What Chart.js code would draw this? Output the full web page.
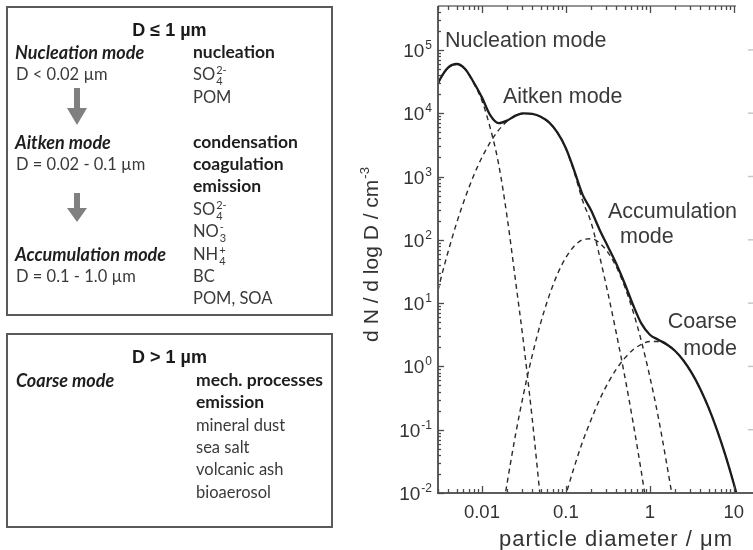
<!DOCTYPE html>
<html>
<head>
<meta charset="utf-8">
<script src="https://cdn.jsdelivr.net/npm/chart.js@4.4.1/dist/chart.umd.min.js"></script>
<style>
  html, body { margin: 0; padding: 0; background: #fff; }
  #wrap { position: relative; width: 753px; height: 550px; overflow: hidden; }
  #plot { position: absolute; left: 0; top: 0; }
  .box { position: absolute; left: 6px; width: 327px; border: 2px solid #5a5a5a; box-sizing: border-box; }
  .t { position: absolute; white-space: nowrap; font-family: Lato, "Open Sans", sans-serif; font-size: 16.5px; line-height: 22px; color: #3a3a3a; }
  .b { font-weight: bold; color: #1e1e1e; font-size: 17.5px; }
  .bi { font-weight: bold; font-style: italic; color: #1e1e1e; font-size: 18px; }
  .head { font-family: "Liberation Sans", Arial, sans-serif; font-weight: bold; font-size: 18px; color: #1a1a1a; text-align: center; width: 327px; left: 6px; }
  .st { display: inline-block; vertical-align: -5px; font-size: 11px; line-height: 11px; margin-left: 1px; }
  .st span { display: block; }
</style>
</head>
<body>
<div id="wrap">
  <canvas id="plot" width="753" height="550"></canvas>

  <div class="box" style="top:6px;height:310px;"></div>
  <div class="box" style="top:333px;height:195px;"></div>

  <svg style="position:absolute;left:0;top:0;" width="330" height="550">
    <g fill="#808080">
      <rect x="74" y="88" width="6" height="21"/>
      <polygon points="67,108 87,108 77,125"/>
      <rect x="74" y="193" width="6" height="16"/>
      <polygon points="67,208 87,208 77,222"/>
    </g>
  </svg>

  <!-- fine fraction -->
  <div class="t head" style="top:19px;">D ≤ 1 µm</div>
  <div class="t bi" style="left:15px;top:41px;">Nucleation mode</div>
  <div class="t" style="left:16px;top:63px;">D &lt; 0.02 µm</div>
  <div class="t bi" style="left:15px;top:131px;">Aitken mode</div>
  <div class="t" style="left:16px;top:153px;">D = 0.02 - 0.1 µm</div>
  <div class="t bi" style="left:15px;top:243px;">Accumulation mode</div>
  <div class="t" style="left:16px;top:265px;">D = 0.1 - 1.0 µm</div>

  <div class="t b" style="left:193px;top:41px;">nucleation</div>
  <div class="t" style="left:193px;top:63px;">SO<span class="st"><span>2-</span><span>4</span></span></div>
  <div class="t" style="left:193px;top:86px;">POM</div>
  <div class="t b" style="left:193px;top:131px;">condensation</div>
  <div class="t b" style="left:193px;top:153px;">coagulation</div>
  <div class="t b" style="left:193px;top:175px;">emission</div>
  <div class="t" style="left:193px;top:198px;">SO<span class="st"><span>2-</span><span>4</span></span></div>
  <div class="t" style="left:193px;top:220px;">NO<span class="st"><span>-</span><span>3</span></span></div>
  <div class="t" style="left:193px;top:243px;">NH<span class="st"><span>+</span><span>4</span></span></div>
  <div class="t" style="left:193px;top:265px;">BC</div>
  <div class="t" style="left:193px;top:287px;">POM, SOA</div>

  <!-- coarse fraction -->
  <div class="t head" style="top:346px;">D &gt; 1 µm</div>
  <div class="t bi" style="left:16px;top:369px;">Coarse mode</div>
  <div class="t b" style="left:196px;top:369px;">mech. processes</div>
  <div class="t b" style="left:196px;top:391px;">emission</div>
  <div class="t" style="left:196px;top:414px;">mineral dust</div>
  <div class="t" style="left:196px;top:436px;">sea salt</div>
  <div class="t" style="left:196px;top:458px;">volcanic ash</div>
  <div class="t" style="left:196px;top:481px;">bioaerosol</div>
</div>

<script>
// particle diameter grid (µm)
const diameters = [0.003, 0.00316, 0.00398, 0.00501, 0.00631, 0.00794, 0.01, 0.0126, 0.0158, 0.02,
  0.0251, 0.0316, 0.0398, 0.0501, 0.0631, 0.0794, 0.1, 0.126, 0.158, 0.2,
  0.251, 0.316, 0.398, 0.501, 0.631, 0.794, 1, 1.26, 1.58, 2,
  2.51, 3.16, 3.98, 5.01, 6.31, 7.94, 10, 12.6];

// dN/dlogD (cm^-3) of each mode
const nucleationMode = [29200, 34000, 52700, 59700, 49500, 30100, 15800, 5750, 1580, 224,
  22.9, 2.13, 0.145, 0.0073, null, null, null, null, null, null,
  null, null, null, null, null, null, null, null, null, null,
  null, null, null, null, null, null, null, null];

const aitkenMode = [15.8, 21.2, 66.5, 186, 460, 1020, 2000, 3480, 5400, 7450,
  9140, 9970, 9770, 8810, 7160, 4900, 2750, 1150, 417, 186,
  56.2, 14.5, 3.37, 0.71, 0.13, 0.0209, 0.0029, null, null, null,
  null, null, null, null, null, null, null, null];

const accumulationMode = [null, null, null, null, null, null, null, null, 0.0021, 0.0145,
  0.0826, 0.388, 1.51, 4.88, 13.0, 28.8, 52.6, 79.8, 100, 104,
  89.3, 63.5, 37.5, 18.3, 7.38, 2.47, 0.684, 0.157, 0.0298, 0.0047,
  null, null, null, null, null, null, null, null];

const coarseMode = [null, null, null, null, null, null, null, null, null, null,
  null, null, null, null, null, 0.0031, 0.0094, 0.026, 0.0646, 0.145,
  0.295, 0.542, 0.90, 1.35, 1.83, 2.24, 2.48, 2.48, 2.21, 1.75,
  1.24, 0.783, 0.441, 0.221, 0.0986, 0.0393, 0.0139, 0.0044];

// sum of all modes
const totalDistribution = [29200, 34000, 52800, 59900, 50000, 31100, 17800, 9230, 6980, 7670,
  9160, 9970, 9770, 8810, 7170, 4930, 2800, 1230, 517, 290,
  146, 78.5, 41.8, 20.4, 9.34, 4.73, 3.16, 2.64, 2.24, 1.75,
  1.24, 0.783, 0.441, 0.221, 0.0986, 0.0393, 0.0139, 0.0044];

const xTickValues = [0.01, 0.1, 1, 10];
const xTickLabels = ['0.01', '0.1', '1', '10'];
const yTickExponents = [-2, -1, 0, 1, 2, 3, 4, 5];

const modeLabels = ['Nucleation mode', 'Aitken mode', 'Accumulation', 'mode', 'Coarse', 'mode'];

function toPoints(series) {
  return diameters.map((d, i) => ({ x: d, y: series[i] })).filter(p => p.y !== null);
}

const solidStyle = { borderColor: '#1c1c1c', borderWidth: 2.3, pointRadius: 0, cubicInterpolationMode: 'monotone', fill: false };
const dashStyle = { borderColor: '#2a2a2a', borderWidth: 1.4, borderDash: [5, 4], pointRadius: 0, cubicInterpolationMode: 'monotone', fill: false };

// axes frame, inward ticks, tick labels, titles and mode labels
const framePlugin = {
  id: 'frame',
  afterDraw(chart) {
    const { ctx, chartArea: a, scales: { x, y } } = chart;
    const seg = (x1, y1, x2, y2) => { ctx.beginPath(); ctx.moveTo(x1, y1); ctx.lineTo(x2, y2); ctx.stroke(); };
    ctx.save();

    // axis lines
    ctx.strokeStyle = '#5c5c5c';
    ctx.lineWidth = 2;
    seg(a.left, a.top, a.left, a.bottom + 1);
    seg(a.left, a.bottom, a.right, a.bottom);
    ctx.strokeStyle = '#707070';
    ctx.lineWidth = 1.5;
    const topEnd = x.getPixelForValue(10) + 2;
    seg(a.left, a.top, topEnd, a.top);

    // x ticks (bottom and top, pointing inward)
    ctx.lineWidth = 1.3;
    ctx.strokeStyle = '#4a4a4a';
    for (let n = -3; n <= 1; n++) {
      for (let k = 1; k <= 9; k++) {
        const v = k * Math.pow(10, n);
        if (v < x.min || v > x.max) continue;
        const px = Math.round(x.getPixelForValue(v)) + 0.5;
        const len = k === 1 ? 7 : 4;
        seg(px, a.bottom, px, a.bottom - len);
        if (px <= topEnd) seg(px, a.top, px, a.top + len);
      }
    }
    // y ticks (left, pointing inward)
    for (let n = -2; n <= 5; n++) {
      for (let k = 1; k <= 9; k++) {
        const v = k * Math.pow(10, n);
        if (v > y.max) continue;
        const py = Math.round(y.getPixelForValue(v)) + 0.5;
        seg(a.left, py, a.left + (k === 1 ? 6 : 3), py);
      }
    }
    // faint right-hand ticks
    ctx.strokeStyle = '#c8c8c8';
    ctx.lineWidth = 1.5;
    for (let n = -1; n <= 5; n++) {
      const py = y.getPixelForValue(Math.pow(10, n));
      seg(a.right - 5, py, a.right, py);
    }

    ctx.fillStyle = '#333';
    ctx.textBaseline = 'alphabetic';

    // y tick labels 10^n
    for (const e of yTickExponents) {
      const py = y.getPixelForValue(Math.pow(10, e));
      const exp = String(e);
      ctx.font = '12px "Liberation Sans", Arial, sans-serif';
      const we = ctx.measureText(exp).width;
      ctx.font = '19px "Liberation Sans", Arial, sans-serif';
      const wb = ctx.measureText('10').width;
      const right = 432;
      ctx.textAlign = 'left';
      ctx.fillText('10', right - we - 1 - wb, py + 7);
      ctx.font = '12px "Liberation Sans", Arial, sans-serif';
      ctx.fillText(exp, right - we, py - 1);
    }

    // x tick labels
    ctx.font = '18.5px "Liberation Sans", Arial, sans-serif';
    ctx.textAlign = 'center';
    xTickValues.forEach((v, i) => {
      ctx.fillText(xTickLabels[i], x.getPixelForValue(v), a.bottom + 25);
    });

    // x axis title
    ctx.font = '22px "Liberation Sans", Arial, sans-serif';
    ctx.letterSpacing = '1px';
    ctx.fillText('particle diameter / μm', 616, 546);
    ctx.letterSpacing = '0px';

    // y axis title
    ctx.save();
    ctx.translate(378, 255);
    ctx.rotate(-Math.PI / 2);
    ctx.textAlign = 'left';
    ctx.font = '21px "Liberation Sans", Arial, sans-serif';
    const main = 'd N / d log D / cm';
    const w1 = ctx.measureText(main).width;
    ctx.font = '13px "Liberation Sans", Arial, sans-serif';
    const w2 = ctx.measureText('-3').width;
    const start = -(w1 + w2) / 2;
    ctx.font = '21px "Liberation Sans", Arial, sans-serif';
    ctx.fillText(main, start, 0);
    ctx.font = '13px "Liberation Sans", Arial, sans-serif';
    ctx.fillText('-3', start + w1 + 1, -9);
    ctx.restore();

    // mode labels
    ctx.fillStyle = '#3a3a3a';
    ctx.font = '21.5px "Liberation Sans", Arial, sans-serif';
    ctx.textAlign = 'left';
    ctx.fillText(modeLabels[0], 445, 47);
    ctx.fillText(modeLabels[1], 503, 103);
    ctx.fillText(modeLabels[2], 608, 218);
    ctx.fillText(modeLabels[3], 620, 243);
    ctx.textAlign = 'right';
    ctx.fillText(modeLabels[4], 737, 328);
    ctx.fillText(modeLabels[5], 737, 355);

    ctx.restore();
  }
};

new Chart(document.getElementById('plot'), {
  type: 'line',
  data: {
    datasets: [
      Object.assign({ label: 'total', data: toPoints(totalDistribution) }, solidStyle),
      Object.assign({ label: 'nucleation', data: toPoints(nucleationMode) }, dashStyle),
      Object.assign({ label: 'Aitken', data: toPoints(aitkenMode) }, dashStyle),
      Object.assign({ label: 'accumulation', data: toPoints(accumulationMode) }, dashStyle),
      Object.assign({ label: 'coarse', data: toPoints(coarseMode) }, dashStyle)
    ]
  },
  options: {
    responsive: false,
    devicePixelRatio: 1,
    animation: false,
    layout: { padding: { left: 438, top: 6, right: 0, bottom: 57 } },
    scales: {
      x: { type: 'logarithmic', min: 0.003, max: 16.9, bounds: 'data', display: false },
      y: { type: 'logarithmic', min: 0.01, max: 4.94e5, bounds: 'data', display: false }
    },
    plugins: { legend: { display: false }, tooltip: { enabled: false } }
  },
  plugins: [framePlugin]
});
</script>
</body>
</html>
